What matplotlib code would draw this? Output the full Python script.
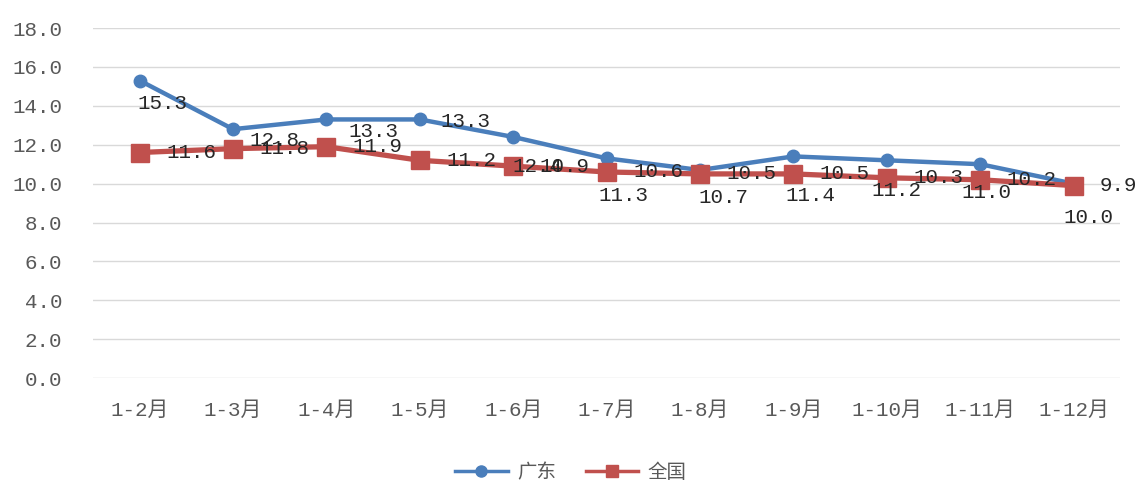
import matplotlib
matplotlib.use("Agg")
import matplotlib.pyplot as plt
from matplotlib.lines import Line2D

plt.rcParams['font.family'] = ['Noto Sans CJK SC', 'DejaVu Sans']

months = ['1-2月', '1-3月', '1-4月', '1-5月', '1-6月', '1-7月',
          '1-8月', '1-9月', '1-10月', '1-11月', '1-12月']
guangdong = [15.3, 12.8, 13.3, 13.3, 12.4, 11.3, 10.7, 11.4, 11.2, 11.0, 10.0]
national = [11.6, 11.8, 11.9, 11.2, 10.9, 10.6, 10.5, 10.5, 10.3, 10.2, 9.9]

blue = '#4a7ebb'
red = '#c0504d'
numfont = ['Liberation Mono', 'DejaVu Sans Mono']
catfont = ['Liberation Mono', 'Noto Sans CJK SC']

fig = plt.figure(figsize=(11.42, 4.83), dpi=100)
ax = fig.add_axes([0.0814, 0.217, 0.8996, 0.725])

x = list(range(len(months)))
ax.plot(x, guangdong, color=blue, lw=3.2, marker='o', ms=9, zorder=3)
ax.plot(x, national, color=red, lw=3.8, marker='s', ms=13, zorder=4)

# label offsets in pixels (right, down) as laid out in the original
gd_off = [(23, 23), (41, 11), (47, 12), (46, 2), (24, 30), (17, 37),
          (23, 27), (17, 39), (10, 30), (6, 28), (15, 34)]
for xi, v, (dx, dy) in zip(x, guangdong, gd_off):
    ax.annotate(f'{v:.1f}', (xi, v), xytext=(dx * 0.72, -dy * 0.72),
                textcoords='offset points', ha='center', va='center',
                fontsize=15, family=numfont, color='#262626', zorder=5)
for xi, v in zip(x, national):
    ax.annotate(f'{v:.1f}', (xi, v), xytext=(19, 0), textcoords='offset points',
                ha='left', va='center', fontsize=15, family=numfont,
                color='#262626', zorder=5)

ax.set_xlim(-0.5, len(months) - 0.5)
ax.set_ylim(0, 18)
ax.set_yticks([i * 2.0 for i in range(10)])
ax.set_yticklabels([f'{i * 2.0:.1f}' for i in range(10)], family=numfont,
                   fontsize=15, color='#595959')
ax.set_xticks(x)
ax.set_xticklabels(months, fontsize=15, family=catfont, color='#595959')
ax.tick_params(length=0, pad=22, axis='y')
ax.tick_params(length=0, pad=16, axis='x')
ax.grid(axis='y', color='#d9d9d9', lw=1)
ax.set_axisbelow(True)
for s in ax.spines.values():
    s.set_visible(False)

handles = [Line2D([], [], color=blue, lw=2.5, marker='o', ms=8),
           Line2D([], [], color=red, lw=2.5, marker='s', ms=8)]
fig.legend(handles, ['广东', '全国'], loc='center', bbox_to_anchor=(0.5, 0.022),
           ncol=2, frameon=False, fontsize=14, handlelength=2.7,
           handletextpad=0.5, columnspacing=1.5, labelcolor='#595959')

fig.savefig('out.png', dpi=100)
